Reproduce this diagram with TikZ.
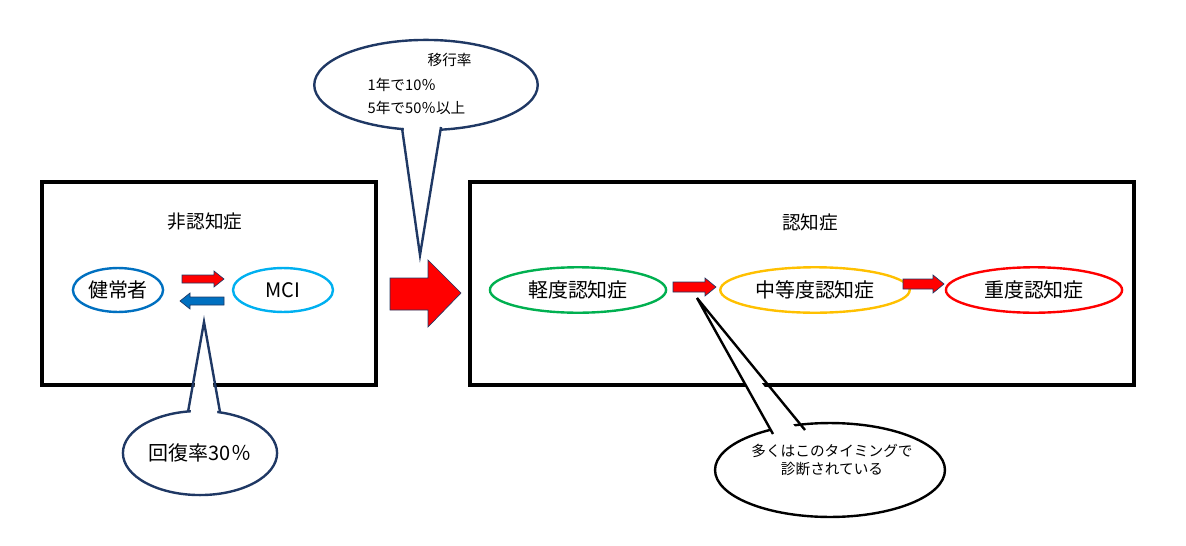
\documentclass[tikz,border=0pt]{standalone}
\usepackage{fontspec}
\setmainfont{Noto Sans CJK JP}
\usetikzlibrary{shapes.geometric}
\definecolor{navy}{RGB}{31,56,100}
\definecolor{dblue}{RGB}{0,112,192}
\definecolor{lblue}{RGB}{0,176,240}
\definecolor{grn}{RGB}{0,176,80}
\definecolor{yel}{RGB}{255,192,0}
\begin{document}
\begin{tikzpicture}[x=0.0264cm,y=-0.0264cm,
  box/.style={draw=black,line width=2.3pt},
  ell/.style={ellipse,draw,line width=1.8pt,inner sep=0pt,font=\fontsize{15}{17}\selectfont},
  call/.style={draw=#1,line width=1.8pt,fill=white},
  blk/.style={fill=red,draw=navy,line width=0.5pt}]
\useasboundingbox (0,0) rectangle (1186,546);
\draw[box] (42,182) rectangle (376,385);
\draw[box] (470,182) rectangle (1134,385);
\node[font=\fontsize{14}{16}\selectfont] (t1) at (205,222) {非認知症};
\node[font=\fontsize{14}{16}\selectfont] (t2) at (810,222) {認知症};
\node[ell,draw=dblue,minimum width=2.38cm,minimum height=1.16cm] (h) at (118,290) {健常者};
\node[ell,draw=lblue,minimum width=2.64cm,minimum height=1.16cm] (m) at (283,290) {MCI};
\node[ell,draw=grn,minimum width=4.65cm,minimum height=1.2cm] (k) at (578,290) {軽度認知症};
\node[ell,draw=yel,minimum width=5.0cm,minimum height=1.2cm] (c) at (815,290) {中等度認知症};
\node[ell,draw=red,minimum width=4.65cm,minimum height=1.2cm] (j) at (1034,290) {重度認知症};
% small arrows
\draw[blk] (182,275)--(214,275)--(214,271)--(224,279)--(214,287)--(214,283)--(182,283)--cycle;
\draw[fill=dblue,draw=navy,line width=0.5pt] (224,297)--(190,297)--(190,293)--(180,301)--(190,309)--(190,305)--(224,305)--cycle;
\draw[blk] (673,282)--(705,282)--(705,278)--(716,287)--(705,296)--(705,292)--(673,292)--cycle;
\draw[blk] (903,279)--(933,279)--(933,275)--(944,284)--(933,293)--(933,289)--(903,289)--cycle;
% big arrow
\draw[blk] (390,278)--(428,278)--(428,260)--(461,293)--(428,327)--(428,310)--(390,310)--cycle;
% top callout
\node[ellipse,call=navy,minimum width=5.9cm,minimum height=2.38cm] (ct) at (426,85) {};
\fill[white] (403,122)--(441,122)--(420,255)--cycle;
\draw[navy,line width=1.8pt] (402,128)--(420,255)--(441,127);
\node[font=\fontsize{11}{13}\selectfont,anchor=west] (l1) at (423,60) {移行率};
\node[font=\fontsize{11}{13}\selectfont,anchor=west] (l2) at (363,85) {1年で10％};
\node[font=\fontsize{11}{13}\selectfont,anchor=west] (l3) at (363,108) {5年で50％以上};
% bottom-left callout
\node[ellipse,call=navy,minimum width=4.07cm,minimum height=2.22cm] (cb) at (200,453) {};
\fill[white] (190,418)--(218,418)--(204,322)--cycle;
\draw[navy,line width=1.8pt] (188,412)--(204,322)--(220,412);
\node[font=\fontsize{15}{17}\selectfont] (r) at (200,453) {回復率30％};
% bottom-right callout
\node[ellipse,call=black,minimum width=6.07cm,minimum height=2.48cm] (cr) at (830,470) {};
\fill[white] (776,440)--(802,436)--(697,298)--cycle;
\draw[black,line width=1.8pt] (773,434)--(697,298)--(805,430);
\node[font=\fontsize{11}{13}\selectfont,align=center] (q) at (832,460) {多くはこのタイミングで\\診断されている};
\end{tikzpicture}
\end{document}
